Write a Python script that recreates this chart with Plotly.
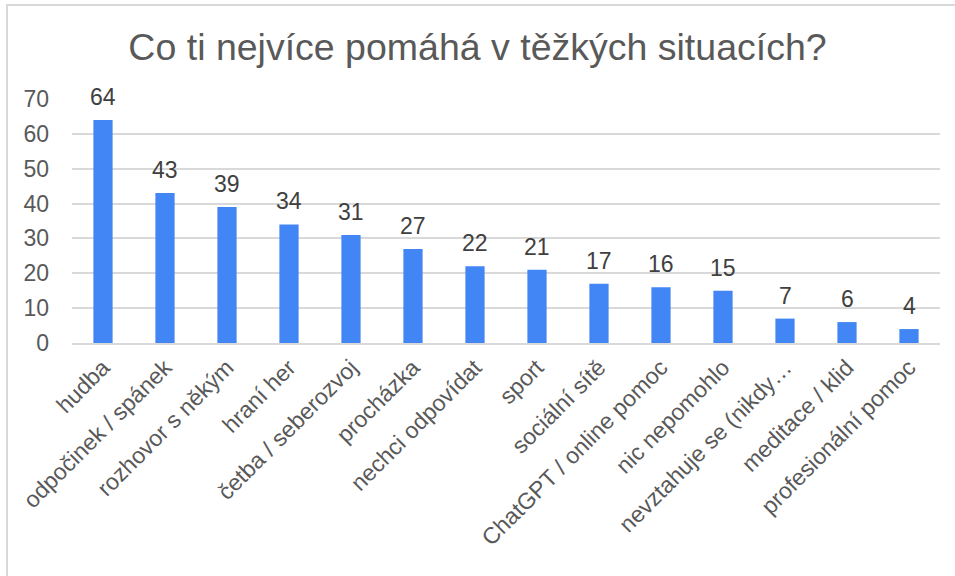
import plotly.graph_objects as go

categories = ["hudba", "odpočinek / spánek", "rozhovor s někým", "hraní her",
              "četba / seberozvoj", "procházka", "nechci odpovídat", "sport",
              "sociální sítě", "ChatGPT / online pomoc", "nic nepomohlo",
              "nevztahuje se (nikdy…", "meditace / klid", "profesionální pomoc"]
values = [64, 43, 39, 34, 31, 27, 22, 21, 17, 16, 15, 7, 6, 4]
y_ticks = [0, 10, 20, 30, 40, 50, 60, 70]
title_text = "Co ti nejvíce pomáhá v těžkých situacích?"

W, H = 955, 576
L, R, T, B = 72, 15, 99, 233
FONT = "Liberation Sans, Arial, sans-serif"

fig = go.Figure(go.Bar(
    x=categories, y=values,
    marker=dict(color="#4285F4", line=dict(width=0)),
    width=0.31,
    cliponaxis=False,
    hoverinfo="x+y",
))

for c, v in zip(categories, values):
    fig.add_annotation(x=c, y=v, text=str(v), showarrow=False,
                       xanchor="center", yanchor="bottom", yshift=8,
                       font=dict(family=FONT, size=23, color="#404040"))

pw = W - L - R
ph = H - T - B
def px2paper_x(px): return (px - L) / pw
def px2paper_y(py): return (H - B - py) / ph

fig.update_layout(
    width=W, height=H,
    margin=dict(l=L, r=R, t=T, b=B, autoexpand=False),
    paper_bgcolor="white", plot_bgcolor="white",
    title=dict(text=title_text, x=0.5, xanchor="center", y=1 - 47 / H, yanchor="middle",
               font=dict(family=FONT, size=37.5, color="#595959")),
    font=dict(family=FONT, color="#595959"),
    showlegend=False,
    xaxis=dict(tickangle=-45, tickfont=dict(family=FONT, size=23, color="#595959"),
               showgrid=False, showline=True, linecolor="#D9D9D9", linewidth=2,
               ticks="", ticklen=0),
    yaxis=dict(range=[0, 70], tickvals=y_ticks, tickfont=dict(family=FONT, size=23, color="#595959"),
               showgrid=True, gridcolor="#D9D9D9", gridwidth=2, zeroline=False,
               showline=False, ticks="", ticklabelstandoff=22),
    shapes=[dict(type="rect", xref="paper", yref="paper",
                 x0=px2paper_x(7), x1=px2paper_x(960), y0=px2paper_y(590), y1=px2paper_y(5),
                 line=dict(color="#D9D9D9", width=2), fillcolor="rgba(0,0,0,0)", layer="below")],
)

fig.write_html("out.html", config={"displayModeBar": False},
               post_script="document.body.style.margin='0px';")
